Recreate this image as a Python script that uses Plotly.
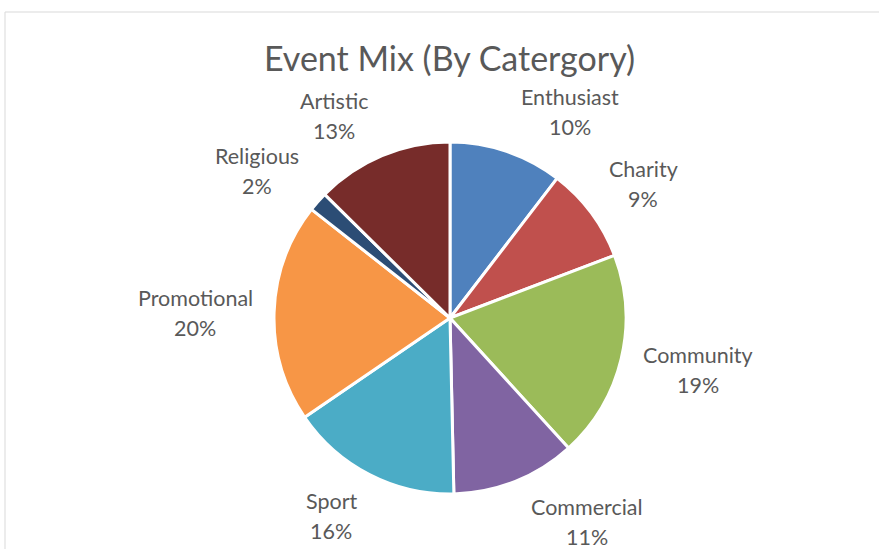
import plotly.graph_objects as go

W, H = 879, 549

categories = ["Enthusiast", "Charity", "Community", "Commercial", "Sport", "Promotional", "Religious", "Artistic"]
values = [10.4, 8.8, 19.0, 11.4, 15.8, 20.1, 1.8, 12.6]
colors = ["#4F81BD", "#C0504D", "#9BBB59", "#8064A2", "#4BACC6", "#F79646", "#2C4D75", "#772C2A"]

# label block centres (pixels), layout only
label_pos = {
    "Enthusiast": (570, 112),
    "Charity": (643, 184),
    "Community": (698, 370),
    "Commercial": (587, 522),
    "Sport": (331, 516),
    "Promotional": (195, 313),
    "Religious": (257, 171),
    "Artistic": (334, 116),
}

cx, cy, r = 450, 318, 176
dom_x = [(cx - r) / W, (cx + r) / W]
dom_y = [1 - (cy + r) / H, 1 - (cy - r) / H]

TEXT = "#595959"
FONT = "Lato"

fig = go.Figure(go.Pie(
    labels=categories, values=values, sort=False, direction="clockwise", rotation=0,
    marker=dict(colors=colors, line=dict(color="white", width=3)),
    textinfo="none", hoverinfo="label+percent", showlegend=False,
    domain=dict(x=dom_x, y=dom_y),
))

total = sum(values)
annotations = []
for name, v in zip(categories, values):
    px, py = label_pos[name]
    pct = f"{round(v / total * 100):.0f}%"
    for txt, dy in ((name, -15), (pct, 15)):
        annotations.append(dict(
            x=px / W, y=1 - (py + dy) / H, xref="paper", yref="paper",
            text=txt, showarrow=False, xanchor="center", yanchor="middle",
            font=dict(family=FONT, size=21.5, color=TEXT),
        ))

annotations.append(dict(
    x=450 / W, y=1 - 57 / H, xref="paper", yref="paper",
    text="Event Mix (By Catergory)", showarrow=False, xanchor="center", yanchor="middle",
    font=dict(family=FONT, size=34, color=TEXT),
))

fig.update_layout(
    width=W, height=H, margin=dict(l=0, r=0, t=0, b=0),
    paper_bgcolor="white", plot_bgcolor="white",
    annotations=annotations,
    shapes=[dict(type="rect", xref="paper", yref="paper",
                 x0=5 / W, x1=1.05, y0=-0.05, y1=1 - 12 / H,
                 line=dict(color="#D9D9D9", width=1), fillcolor="rgba(0,0,0,0)")],
)

fig.write_html("out.html")
